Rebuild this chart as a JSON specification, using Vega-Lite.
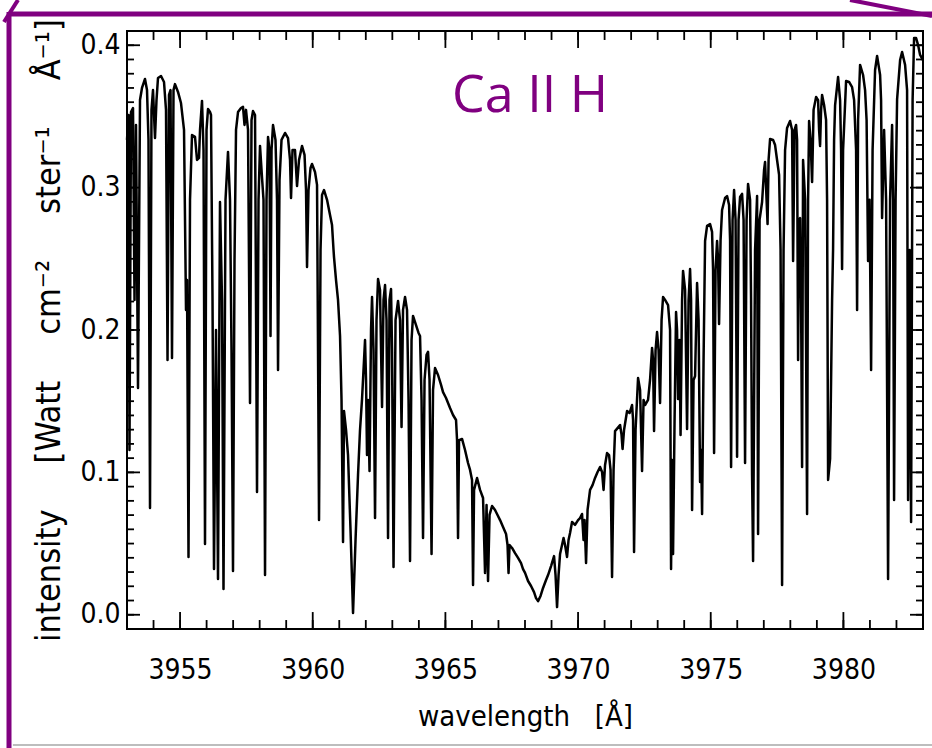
{
"$schema": "https://vega.github.io/schema/vega-lite/v6.json",
"width": 796, "height": 598,
"autosize": {"type": "none"},
"padding": {"left": 127, "top": 31, "right": 9, "bottom": 119},
"background": "white",
"config": {
  "view": {"stroke": "black", "strokeWidth": 2},
  "axis": {"grid": false, "domain": false, "ticks": false, "labelColor": "black", "titleColor": "black", "labelFont": "Liberation Sans Narrow, DejaVu Sans Condensed, sans-serif", "titleFont": "Liberation Sans Narrow, DejaVu Sans Condensed, sans-serif", "labelFontWeight": "normal", "titleFontWeight": "normal"}
},
"datasets": {
"xminor": [{"value":3953},{"value":3954},{"value":3955},{"value":3956},{"value":3957},{"value":3958},{"value":3959},{"value":3960},{"value":3961},{"value":3962},{"value":3963},{"value":3964},{"value":3965},{"value":3966},{"value":3967},{"value":3968},{"value":3969},{"value":3970},{"value":3971},{"value":3972},{"value":3973},{"value":3974},{"value":3975},{"value":3976},{"value":3977},{"value":3978},{"value":3979},{"value":3980},{"value":3981},{"value":3982},{"value":3983}],
"xmajor": [{"value":3955},{"value":3960},{"value":3965},{"value":3970},{"value":3975},{"value":3980}],
"yminor": [{"value":0},{"value":0.01},{"value":0.02},{"value":0.03},{"value":0.04},{"value":0.05},{"value":0.06},{"value":0.07},{"value":0.08},{"value":0.09},{"value":0.1},{"value":0.11},{"value":0.12},{"value":0.13},{"value":0.14},{"value":0.15},{"value":0.16},{"value":0.17},{"value":0.18},{"value":0.19},{"value":0.2},{"value":0.21},{"value":0.22},{"value":0.23},{"value":0.24},{"value":0.25},{"value":0.26},{"value":0.27},{"value":0.28},{"value":0.29},{"value":0.3},{"value":0.31},{"value":0.32},{"value":0.33},{"value":0.34},{"value":0.35},{"value":0.36},{"value":0.37},{"value":0.38},{"value":0.39},{"value":0.4}],
"ymajor": [{"value":0},{"value":0.1},{"value":0.2},{"value":0.3},{"value":0.4}],
"spectrum": [
{"wavelength":3953.000,"intensity":0.3335},{"wavelength":3953.057,"intensity":0.3510},{"wavelength":3953.094,"intensity":0.1157},{"wavelength":3953.151,"intensity":0.3531},{"wavelength":3953.226,"intensity":0.3559},{"wavelength":3953.283,"intensity":0.2211},{"wavelength":3953.339,"intensity":0.3440},{"wavelength":3953.415,"intensity":0.1593},{"wavelength":3953.490,"intensity":0.3615},{"wavelength":3953.565,"intensity":0.3700},{"wavelength":3953.678,"intensity":0.3763},{"wavelength":3953.754,"intensity":0.3685},{"wavelength":3953.810,"intensity":0.3335},{"wavelength":3953.867,"intensity":0.0750},{"wavelength":3953.923,"intensity":0.3546},{"wavelength":3953.980,"intensity":0.3685},{"wavelength":3954.055,"intensity":0.3348},{"wavelength":3954.112,"intensity":0.3615},{"wavelength":3954.168,"intensity":0.3770},{"wavelength":3954.282,"intensity":0.3784},{"wavelength":3954.395,"intensity":0.3742},{"wavelength":3954.470,"intensity":0.3546},{"wavelength":3954.527,"intensity":0.1789},{"wavelength":3954.583,"intensity":0.3651},{"wavelength":3954.640,"intensity":0.3685},{"wavelength":3954.696,"intensity":0.1804},{"wavelength":3954.753,"intensity":0.3685},{"wavelength":3954.809,"intensity":0.3727},{"wavelength":3954.922,"intensity":0.3672},{"wavelength":3955.035,"intensity":0.3594},{"wavelength":3955.149,"intensity":0.3405},{"wavelength":3955.224,"intensity":0.2141},{"wavelength":3955.262,"intensity":0.2351},{"wavelength":3955.318,"intensity":0.0406},{"wavelength":3955.375,"intensity":0.2914},{"wavelength":3955.450,"intensity":0.3369},{"wavelength":3955.563,"intensity":0.3356},{"wavelength":3955.639,"intensity":0.3194},{"wavelength":3955.714,"intensity":0.3209},{"wavelength":3955.752,"intensity":0.3405},{"wavelength":3955.827,"intensity":0.3609},{"wavelength":3955.884,"intensity":0.3264},{"wavelength":3955.940,"intensity":0.0497},{"wavelength":3955.997,"intensity":0.3405},{"wavelength":3956.053,"intensity":0.3552},{"wavelength":3956.129,"intensity":0.3531},{"wavelength":3956.166,"intensity":0.3510},{"wavelength":3956.223,"intensity":0.2211},{"wavelength":3956.279,"intensity":0.0321},{"wavelength":3956.355,"intensity":0.2000},{"wavelength":3956.430,"intensity":0.0251},{"wavelength":3956.505,"intensity":0.2899},{"wavelength":3956.581,"intensity":0.2211},{"wavelength":3956.637,"intensity":0.0181},{"wavelength":3956.713,"intensity":0.2914},{"wavelength":3956.807,"intensity":0.3251},{"wavelength":3956.882,"intensity":0.2914},{"wavelength":3956.939,"intensity":0.1859},{"wavelength":3956.995,"intensity":0.0307},{"wavelength":3957.052,"intensity":0.2491},{"wavelength":3957.109,"intensity":0.3405},{"wavelength":3957.184,"intensity":0.3531},{"wavelength":3957.297,"intensity":0.3559},{"wavelength":3957.372,"intensity":0.3567},{"wavelength":3957.429,"intensity":0.3440},{"wavelength":3957.485,"intensity":0.3546},{"wavelength":3957.561,"intensity":0.3405},{"wavelength":3957.636,"intensity":0.1488},{"wavelength":3957.693,"intensity":0.3475},{"wavelength":3957.749,"intensity":0.3538},{"wavelength":3957.825,"intensity":0.3510},{"wavelength":3957.900,"intensity":0.0862},{"wavelength":3957.957,"intensity":0.2914},{"wavelength":3958.013,"intensity":0.3293},{"wavelength":3958.089,"intensity":0.3068},{"wavelength":3958.145,"intensity":0.2914},{"wavelength":3958.202,"intensity":0.0279},{"wavelength":3958.258,"intensity":0.2914},{"wavelength":3958.315,"intensity":0.3356},{"wavelength":3958.371,"intensity":0.3264},{"wavelength":3958.409,"intensity":0.1958},{"wavelength":3958.447,"intensity":0.3264},{"wavelength":3958.503,"intensity":0.3440},{"wavelength":3958.597,"intensity":0.3335},{"wavelength":3958.654,"intensity":0.2914},{"wavelength":3958.692,"intensity":0.1719},{"wavelength":3958.748,"intensity":0.3053},{"wavelength":3958.824,"intensity":0.3335},{"wavelength":3958.956,"intensity":0.3384},{"wavelength":3959.069,"intensity":0.3348},{"wavelength":3959.144,"intensity":0.3194},{"wavelength":3959.182,"intensity":0.2927},{"wavelength":3959.238,"intensity":0.3264},{"wavelength":3959.332,"intensity":0.3264},{"wavelength":3959.408,"intensity":0.3011},{"wavelength":3959.483,"intensity":0.3194},{"wavelength":3959.596,"intensity":0.3293},{"wavelength":3959.691,"intensity":0.3230},{"wavelength":3959.747,"intensity":0.2983},{"wavelength":3959.785,"intensity":0.2442},{"wavelength":3959.841,"intensity":0.2983},{"wavelength":3959.917,"intensity":0.3138},{"wavelength":3959.973,"intensity":0.3166},{"wavelength":3960.086,"intensity":0.3110},{"wavelength":3960.162,"intensity":0.3019},{"wavelength":3960.237,"intensity":0.0665},{"wavelength":3960.294,"intensity":0.2562},{"wavelength":3960.350,"intensity":0.2948},{"wavelength":3960.426,"intensity":0.2983},{"wavelength":3960.539,"intensity":0.2914},{"wavelength":3960.652,"intensity":0.2808},{"wavelength":3960.727,"intensity":0.2737},{"wavelength":3960.784,"intensity":0.2562},{"wavelength":3960.802,"intensity":0.2512},{"wavelength":3960.878,"intensity":0.2351},{"wavelength":3960.953,"intensity":0.2211},{"wavelength":3961.029,"intensity":0.1958},{"wavelength":3961.085,"intensity":0.1509},{"wavelength":3961.142,"intensity":0.0511},{"wavelength":3961.179,"intensity":0.1431},{"wavelength":3961.255,"intensity":0.1298},{"wavelength":3961.330,"intensity":0.1122},{"wavelength":3961.424,"intensity":0.0595},{"wavelength":3961.519,"intensity":0.0012},{"wavelength":3961.613,"intensity":0.0525},{"wavelength":3961.707,"intensity":0.0982},{"wavelength":3961.782,"intensity":0.1298},{"wavelength":3961.858,"intensity":0.1515},{"wavelength":3961.933,"intensity":0.1789},{"wavelength":3961.971,"intensity":0.1930},{"wavelength":3962.009,"intensity":0.1649},{"wavelength":3962.046,"intensity":0.1122},{"wavelength":3962.084,"intensity":0.1509},{"wavelength":3962.141,"intensity":0.1010},{"wavelength":3962.197,"intensity":0.2000},{"wavelength":3962.235,"intensity":0.2232},{"wavelength":3962.291,"intensity":0.1859},{"wavelength":3962.348,"intensity":0.0679},{"wavelength":3962.404,"intensity":0.2070},{"wavelength":3962.461,"intensity":0.2358},{"wavelength":3962.536,"intensity":0.2281},{"wavelength":3962.612,"intensity":0.1459},{"wavelength":3962.668,"intensity":0.2211},{"wavelength":3962.725,"intensity":0.2316},{"wavelength":3962.781,"intensity":0.2070},{"wavelength":3962.838,"intensity":0.0539},{"wavelength":3962.894,"intensity":0.2211},{"wavelength":3962.951,"intensity":0.2288},{"wavelength":3962.989,"intensity":0.1859},{"wavelength":3963.045,"intensity":0.0336},{"wavelength":3963.121,"intensity":0.2070},{"wavelength":3963.215,"intensity":0.2204},{"wavelength":3963.290,"intensity":0.2070},{"wavelength":3963.347,"intensity":0.1319},{"wavelength":3963.403,"intensity":0.2141},{"wavelength":3963.479,"intensity":0.2232},{"wavelength":3963.554,"intensity":0.2141},{"wavelength":3963.611,"intensity":0.1509},{"wavelength":3963.667,"intensity":0.0378},{"wavelength":3963.724,"intensity":0.1930},{"wavelength":3963.780,"intensity":0.2099},{"wavelength":3963.893,"intensity":0.2035},{"wavelength":3963.988,"intensity":0.1979},{"wavelength":3964.044,"intensity":0.1958},{"wavelength":3964.101,"intensity":0.1509},{"wavelength":3964.157,"intensity":0.0539},{"wavelength":3964.214,"intensity":0.1649},{"wavelength":3964.289,"intensity":0.1825},{"wavelength":3964.346,"intensity":0.1846},{"wavelength":3964.402,"intensity":0.1649},{"wavelength":3964.478,"intensity":0.0427},{"wavelength":3964.534,"intensity":0.1579},{"wavelength":3964.609,"intensity":0.1733},{"wavelength":3964.723,"intensity":0.1684},{"wavelength":3964.836,"intensity":0.1614},{"wavelength":3964.911,"intensity":0.1564},{"wavelength":3965.024,"intensity":0.1522},{"wavelength":3965.175,"intensity":0.1452},{"wavelength":3965.288,"intensity":0.1403},{"wavelength":3965.401,"intensity":0.1368},{"wavelength":3965.439,"intensity":0.1227},{"wavelength":3965.476,"intensity":0.0539},{"wavelength":3965.514,"intensity":0.1227},{"wavelength":3965.627,"intensity":0.1235},{"wavelength":3965.740,"intensity":0.1157},{"wavelength":3965.853,"intensity":0.1066},{"wavelength":3965.929,"intensity":0.1017},{"wavelength":3966.004,"intensity":0.0947},{"wavelength":3966.042,"intensity":0.0209},{"wavelength":3966.080,"intensity":0.0877},{"wavelength":3966.193,"intensity":0.0961},{"wavelength":3966.306,"intensity":0.0877},{"wavelength":3966.419,"intensity":0.0820},{"wavelength":3966.494,"intensity":0.0294},{"wavelength":3966.551,"intensity":0.0771},{"wavelength":3966.607,"intensity":0.0237},{"wavelength":3966.664,"intensity":0.0701},{"wavelength":3966.758,"intensity":0.0764},{"wavelength":3966.871,"intensity":0.0736},{"wavelength":3966.946,"intensity":0.0708},{"wavelength":3967.060,"intensity":0.0665},{"wavelength":3967.173,"intensity":0.0616},{"wavelength":3967.286,"intensity":0.0567},{"wavelength":3967.342,"intensity":0.0490},{"wavelength":3967.380,"intensity":0.0294},{"wavelength":3967.418,"intensity":0.0490},{"wavelength":3967.512,"intensity":0.0469},{"wavelength":3967.625,"intensity":0.0433},{"wavelength":3967.738,"intensity":0.0399},{"wavelength":3967.851,"intensity":0.0363},{"wavelength":3967.926,"intensity":0.0321},{"wavelength":3968.002,"intensity":0.0294},{"wavelength":3968.115,"intensity":0.0237},{"wavelength":3968.228,"intensity":0.0202},{"wavelength":3968.341,"intensity":0.0159},{"wavelength":3968.416,"intensity":0.0117},{"wavelength":3968.492,"intensity":0.0096},{"wavelength":3968.586,"intensity":0.0132},{"wavelength":3968.680,"intensity":0.0188},{"wavelength":3968.793,"intensity":0.0244},{"wavelength":3968.869,"intensity":0.0279},{"wavelength":3968.982,"intensity":0.0342},{"wavelength":3969.095,"intensity":0.0412},{"wavelength":3969.151,"intensity":0.0279},{"wavelength":3969.208,"intensity":0.0054},{"wavelength":3969.265,"intensity":0.0279},{"wavelength":3969.321,"intensity":0.0427},{"wavelength":3969.396,"intensity":0.0490},{"wavelength":3969.453,"intensity":0.0539},{"wavelength":3969.510,"intensity":0.0490},{"wavelength":3969.585,"intensity":0.0406},{"wavelength":3969.641,"intensity":0.0525},{"wavelength":3969.698,"intensity":0.0574},{"wavelength":3969.773,"intensity":0.0652},{"wavelength":3969.886,"intensity":0.0631},{"wavelength":3970.000,"intensity":0.0665},{"wavelength":3970.075,"intensity":0.0679},{"wavelength":3970.150,"intensity":0.0708},{"wavelength":3970.207,"intensity":0.0525},{"wavelength":3970.245,"intensity":0.0665},{"wavelength":3970.301,"intensity":0.0363},{"wavelength":3970.358,"intensity":0.0736},{"wavelength":3970.452,"intensity":0.0877},{"wavelength":3970.546,"intensity":0.0911},{"wavelength":3970.640,"intensity":0.0961},{"wavelength":3970.735,"intensity":0.1003},{"wavelength":3970.829,"intensity":0.1038},{"wavelength":3970.904,"intensity":0.1003},{"wavelength":3970.961,"intensity":0.0877},{"wavelength":3971.017,"intensity":0.1052},{"wavelength":3971.093,"intensity":0.1136},{"wavelength":3971.168,"intensity":0.1122},{"wavelength":3971.225,"intensity":0.1017},{"wavelength":3971.281,"intensity":0.0265},{"wavelength":3971.338,"intensity":0.1017},{"wavelength":3971.394,"intensity":0.1290},{"wavelength":3971.488,"intensity":0.1311},{"wavelength":3971.583,"intensity":0.1333},{"wavelength":3971.639,"intensity":0.1263},{"wavelength":3971.677,"intensity":0.1164},{"wavelength":3971.733,"intensity":0.1298},{"wavelength":3971.847,"intensity":0.1431},{"wavelength":3971.941,"intensity":0.1417},{"wavelength":3972.035,"intensity":0.1473},{"wavelength":3972.073,"intensity":0.1368},{"wavelength":3972.110,"intensity":0.0441},{"wavelength":3972.167,"intensity":0.1298},{"wavelength":3972.261,"intensity":0.1663},{"wavelength":3972.337,"intensity":0.1579},{"wavelength":3972.412,"intensity":0.1010},{"wavelength":3972.468,"intensity":0.1509},{"wavelength":3972.525,"intensity":0.1473},{"wavelength":3972.638,"intensity":0.1509},{"wavelength":3972.713,"intensity":0.1649},{"wavelength":3972.789,"intensity":0.1874},{"wavelength":3972.827,"intensity":0.1789},{"wavelength":3972.864,"intensity":0.1290},{"wavelength":3972.921,"intensity":0.1859},{"wavelength":3972.977,"intensity":0.1986},{"wavelength":3973.034,"intensity":0.1859},{"wavelength":3973.090,"intensity":0.1488},{"wavelength":3973.147,"intensity":0.2070},{"wavelength":3973.203,"intensity":0.2232},{"wavelength":3973.279,"intensity":0.2211},{"wavelength":3973.392,"intensity":0.2175},{"wavelength":3973.467,"intensity":0.2000},{"wavelength":3973.505,"intensity":0.0321},{"wavelength":3973.543,"intensity":0.1087},{"wavelength":3973.580,"intensity":0.0427},{"wavelength":3973.637,"intensity":0.1368},{"wavelength":3973.693,"intensity":0.2126},{"wavelength":3973.731,"intensity":0.2000},{"wavelength":3973.769,"intensity":0.1515},{"wavelength":3973.825,"intensity":0.1930},{"wavelength":3973.863,"intensity":0.1263},{"wavelength":3973.920,"intensity":0.2211},{"wavelength":3973.957,"intensity":0.2415},{"wavelength":3974.033,"intensity":0.2281},{"wavelength":3974.108,"intensity":0.1305},{"wavelength":3974.165,"intensity":0.2211},{"wavelength":3974.221,"intensity":0.2428},{"wavelength":3974.259,"intensity":0.2211},{"wavelength":3974.297,"intensity":0.0736},{"wavelength":3974.353,"intensity":0.1649},{"wavelength":3974.410,"intensity":0.1677},{"wavelength":3974.485,"intensity":0.2330},{"wavelength":3974.542,"intensity":0.2070},{"wavelength":3974.598,"intensity":0.0932},{"wavelength":3974.636,"intensity":0.1157},{"wavelength":3974.674,"intensity":0.0708},{"wavelength":3974.730,"intensity":0.1789},{"wavelength":3974.787,"intensity":0.2625},{"wavelength":3974.862,"intensity":0.2731},{"wavelength":3974.975,"intensity":0.2744},{"wavelength":3975.050,"intensity":0.2689},{"wavelength":3975.088,"intensity":0.2421},{"wavelength":3975.126,"intensity":0.1136},{"wavelength":3975.182,"intensity":0.2421},{"wavelength":3975.239,"intensity":0.2625},{"wavelength":3975.277,"intensity":0.2491},{"wavelength":3975.314,"intensity":0.2042},{"wavelength":3975.371,"intensity":0.2632},{"wavelength":3975.427,"intensity":0.2843},{"wavelength":3975.540,"intensity":0.2927},{"wavelength":3975.616,"intensity":0.2941},{"wavelength":3975.691,"intensity":0.2878},{"wavelength":3975.729,"intensity":0.2632},{"wavelength":3975.767,"intensity":0.1038},{"wavelength":3975.823,"intensity":0.2773},{"wavelength":3975.880,"intensity":0.2983},{"wavelength":3975.936,"intensity":0.2773},{"wavelength":3975.993,"intensity":0.1109},{"wavelength":3976.049,"intensity":0.2773},{"wavelength":3976.106,"intensity":0.2935},{"wavelength":3976.181,"intensity":0.2956},{"wavelength":3976.238,"intensity":0.2773},{"wavelength":3976.294,"intensity":0.1066},{"wavelength":3976.351,"intensity":0.2773},{"wavelength":3976.407,"intensity":0.3026},{"wavelength":3976.483,"intensity":0.2914},{"wavelength":3976.520,"intensity":0.2211},{"wavelength":3976.558,"intensity":0.0982},{"wavelength":3976.596,"intensity":0.0378},{"wavelength":3976.671,"intensity":0.2562},{"wavelength":3976.747,"intensity":0.2941},{"wavelength":3976.784,"intensity":0.0567},{"wavelength":3976.841,"intensity":0.2773},{"wavelength":3976.935,"intensity":0.2899},{"wavelength":3977.010,"intensity":0.3124},{"wavelength":3977.048,"intensity":0.3180},{"wavelength":3977.105,"intensity":0.2914},{"wavelength":3977.142,"intensity":0.2744},{"wavelength":3977.180,"intensity":0.3194},{"wavelength":3977.237,"intensity":0.3342},{"wavelength":3977.350,"intensity":0.3335},{"wavelength":3977.425,"intensity":0.3299},{"wavelength":3977.500,"intensity":0.3194},{"wavelength":3977.576,"intensity":0.3089},{"wavelength":3977.632,"intensity":0.2562},{"wavelength":3977.689,"intensity":0.0209},{"wavelength":3977.745,"intensity":0.2562},{"wavelength":3977.802,"intensity":0.3264},{"wavelength":3977.877,"intensity":0.3419},{"wavelength":3977.990,"intensity":0.3468},{"wavelength":3978.066,"intensity":0.3405},{"wavelength":3978.104,"intensity":0.2485},{"wavelength":3978.160,"intensity":0.3405},{"wavelength":3978.217,"intensity":0.3440},{"wavelength":3978.254,"intensity":0.3335},{"wavelength":3978.292,"intensity":0.1789},{"wavelength":3978.330,"intensity":0.2773},{"wavelength":3978.367,"intensity":0.2786},{"wavelength":3978.405,"intensity":0.2211},{"wavelength":3978.443,"intensity":0.1038},{"wavelength":3978.480,"intensity":0.3194},{"wavelength":3978.556,"intensity":0.2914},{"wavelength":3978.594,"intensity":0.1859},{"wavelength":3978.631,"intensity":0.0708},{"wavelength":3978.669,"intensity":0.2914},{"wavelength":3978.707,"intensity":0.3468},{"wavelength":3978.763,"intensity":0.3335},{"wavelength":3978.820,"intensity":0.3040},{"wavelength":3978.876,"intensity":0.3546},{"wavelength":3978.971,"intensity":0.3637},{"wavelength":3979.046,"intensity":0.3615},{"wavelength":3979.084,"intensity":0.3405},{"wavelength":3979.121,"intensity":0.3293},{"wavelength":3979.159,"intensity":0.3546},{"wavelength":3979.197,"intensity":0.3651},{"wavelength":3979.272,"intensity":0.3580},{"wavelength":3979.347,"intensity":0.3475},{"wavelength":3979.385,"intensity":0.2914},{"wavelength":3979.423,"intensity":0.0947},{"wavelength":3979.498,"intensity":0.1094},{"wavelength":3979.574,"intensity":0.2211},{"wavelength":3979.611,"intensity":0.2569},{"wavelength":3979.649,"intensity":0.3335},{"wavelength":3979.687,"intensity":0.3580},{"wavelength":3979.800,"intensity":0.3777},{"wavelength":3979.875,"intensity":0.3615},{"wavelength":3979.913,"intensity":0.3264},{"wavelength":3979.950,"intensity":0.2428},{"wavelength":3979.988,"intensity":0.3264},{"wavelength":3980.101,"intensity":0.3749},{"wavelength":3980.214,"intensity":0.3742},{"wavelength":3980.327,"intensity":0.3706},{"wavelength":3980.403,"intensity":0.3615},{"wavelength":3980.478,"intensity":0.3264},{"wavelength":3980.516,"intensity":0.2141},{"wavelength":3980.554,"intensity":0.3475},{"wavelength":3980.629,"intensity":0.3862},{"wavelength":3980.742,"intensity":0.3791},{"wavelength":3980.817,"intensity":0.3685},{"wavelength":3980.874,"intensity":0.3475},{"wavelength":3980.930,"intensity":0.2485},{"wavelength":3980.987,"intensity":0.2914},{"wavelength":3981.044,"intensity":0.1719},{"wavelength":3981.100,"intensity":0.3264},{"wavelength":3981.194,"intensity":0.3826},{"wavelength":3981.270,"intensity":0.3925},{"wavelength":3981.383,"intensity":0.3791},{"wavelength":3981.420,"intensity":0.3615},{"wavelength":3981.458,"intensity":0.2786},{"wavelength":3981.534,"intensity":0.3405},{"wavelength":3981.609,"intensity":0.2914},{"wavelength":3981.684,"intensity":0.0251},{"wavelength":3981.760,"intensity":0.2914},{"wavelength":3981.835,"intensity":0.3440},{"wavelength":3981.873,"intensity":0.2914},{"wavelength":3981.910,"intensity":0.0806},{"wavelength":3981.967,"intensity":0.2914},{"wavelength":3982.024,"intensity":0.3622},{"wavelength":3982.137,"intensity":0.3896},{"wavelength":3982.212,"intensity":0.3953},{"wavelength":3982.325,"intensity":0.3862},{"wavelength":3982.400,"intensity":0.3685},{"wavelength":3982.438,"intensity":0.0806},{"wavelength":3982.495,"intensity":0.2562},{"wavelength":3982.551,"intensity":0.0652},{"wavelength":3982.608,"intensity":0.3615},{"wavelength":3982.664,"intensity":0.4051},{"wavelength":3982.740,"intensity":0.4051},{"wavelength":3982.815,"intensity":0.4001},{"wavelength":3982.891,"intensity":0.3932},{"wavelength":3983.000,"intensity":0.3896}
]},
"layer": [
  {
    "data": {"name": "spectrum"},
    "mark": {"type": "line", "color": "black", "strokeWidth": 2.5, "strokeJoin": "round"},
    "encoding": {
      "x": {"field": "wavelength", "type": "quantitative",
        "scale": {"domain": [3953, 3983], "nice": false, "zero": false},
        "axis": {"orient": "bottom", "values": [3955,3960,3965,3970,3975,3980], "format": "d",
          "labelFontSize": 28, "labelPadding": 27, "labelFlush": false, "labelOverlap": false,
          "title": "wavelength\u00a0\u00a0\u00a0[Å]", "titleFontSize": 29, "titlePadding": 18}},
      "y": {"field": "intensity", "type": "quantitative",
        "scale": {"domain": [-0.01, 0.41], "nice": false, "zero": false},
        "axis": {"orient": "left", "values": [0, 0.1, 0.2, 0.3, 0.4], "format": ".1f",
          "labelFontSize": 28, "labelPadding": 7, "labelFlush": false, "labelOverlap": false,
          "title": "intensity\u2003\u2002[Watt\u2003\u2002cm⁻²\u2003\u2002ster⁻¹\u2003\u2002Å⁻¹]", "titleFontSize": 34, "titlePadding": 13}}
    }
  },
  {
    "data": {"name": "xminor"},
    "mark": {"type": "rule", "color": "black", "strokeWidth": 1.8},
    "encoding": {
      "x": {"field": "value", "type": "quantitative", "scale": {"domain": [3953, 3983], "nice": false, "zero": false}, "axis": null},
      "y": {"datum": -0.01, "type": "quantitative", "scale": {"domain": [-0.01, 0.41], "nice": false, "zero": false}, "axis": null},
      "y2": {"datum": -0.0037}
    }
  },
  {
    "data": {"name": "xminor"},
    "mark": {"type": "rule", "color": "black", "strokeWidth": 1.8},
    "encoding": {
      "x": {"field": "value", "type": "quantitative", "scale": {"domain": [3953, 3983], "nice": false, "zero": false}, "axis": null},
      "y": {"datum": 0.41, "type": "quantitative", "scale": {"domain": [-0.01, 0.41], "nice": false, "zero": false}, "axis": null},
      "y2": {"datum": 0.4037}
    }
  },
  {
    "data": {"name": "xmajor"},
    "mark": {"type": "rule", "color": "black", "strokeWidth": 1.8},
    "encoding": {
      "x": {"field": "value", "type": "quantitative", "scale": {"domain": [3953, 3983], "nice": false, "zero": false}, "axis": null},
      "y": {"datum": -0.01, "type": "quantitative", "scale": {"domain": [-0.01, 0.41], "nice": false, "zero": false}, "axis": null},
      "y2": {"datum": 0.0019}
    }
  },
  {
    "data": {"name": "xmajor"},
    "mark": {"type": "rule", "color": "black", "strokeWidth": 1.8},
    "encoding": {
      "x": {"field": "value", "type": "quantitative", "scale": {"domain": [3953, 3983], "nice": false, "zero": false}, "axis": null},
      "y": {"datum": 0.41, "type": "quantitative", "scale": {"domain": [-0.01, 0.41], "nice": false, "zero": false}, "axis": null},
      "y2": {"datum": 0.3981}
    }
  },
  {
    "data": {"name": "yminor"},
    "mark": {"type": "rule", "color": "black", "strokeWidth": 1.8},
    "encoding": {
      "y": {"field": "value", "type": "quantitative", "scale": {"domain": [-0.01, 0.41], "nice": false, "zero": false}, "axis": null},
      "x": {"datum": 3953, "type": "quantitative", "scale": {"domain": [3953, 3983], "nice": false, "zero": false}, "axis": null},
      "x2": {"datum": 3953.264}
    }
  },
  {
    "data": {"name": "yminor"},
    "mark": {"type": "rule", "color": "black", "strokeWidth": 1.8},
    "encoding": {
      "y": {"field": "value", "type": "quantitative", "scale": {"domain": [-0.01, 0.41], "nice": false, "zero": false}, "axis": null},
      "x": {"datum": 3983, "type": "quantitative", "scale": {"domain": [3953, 3983], "nice": false, "zero": false}, "axis": null},
      "x2": {"datum": 3982.736}
    }
  },
  {
    "data": {"name": "ymajor"},
    "mark": {"type": "rule", "color": "black", "strokeWidth": 1.8},
    "encoding": {
      "y": {"field": "value", "type": "quantitative", "scale": {"domain": [-0.01, 0.41], "nice": false, "zero": false}, "axis": null},
      "x": {"datum": 3953, "type": "quantitative", "scale": {"domain": [3953, 3983], "nice": false, "zero": false}, "axis": null},
      "x2": {"datum": 3953.49}
    }
  },
  {
    "data": {"name": "ymajor"},
    "mark": {"type": "rule", "color": "black", "strokeWidth": 1.8},
    "encoding": {
      "y": {"field": "value", "type": "quantitative", "scale": {"domain": [-0.01, 0.41], "nice": false, "zero": false}, "axis": null},
      "x": {"datum": 3983, "type": "quantitative", "scale": {"domain": [3953, 3983], "nice": false, "zero": false}, "axis": null},
      "x2": {"datum": 3982.51}
    }
  },
  {
    "data": {"values": [{}]},
    "mark": {"type": "text", "text": "Ca II H", "font": "Open Sans", "fontSize": 52, "color": "#800080", "align": "center", "baseline": "alphabetic"},
    "encoding": {
      "x": {"datum": 3968.19, "type": "quantitative", "scale": {"domain": [3953, 3983], "nice": false, "zero": false}, "axis": null},
      "y": {"datum": 0.3531, "type": "quantitative", "scale": {"domain": [-0.01, 0.41], "nice": false, "zero": false}, "axis": null}
    }
  },
  {
    "data": {"values": [{}]},
    "mark": {"type": "rule", "color": "#800080", "strokeWidth": 5},
    "encoding": {
      "x": {"datum": 3948.553, "type": "quantitative", "scale": {"domain": [3953, 3983], "nice": false, "zero": false}, "axis": null},
      "y": {"datum": 0.4234, "type": "quantitative", "scale": {"domain": [-0.01, 0.41], "nice": false, "zero": false}, "axis": null},
      "y2": {"datum": -0.0936}
    }
  },
  {
    "data": {"values": [{}]},
    "mark": {"type": "rule", "color": "#800080", "strokeWidth": 5},
    "encoding": {
      "x": {"datum": 3948.553, "type": "quantitative", "scale": {"domain": [3953, 3983], "nice": false, "zero": false}, "axis": null},
      "x2": {"datum": 3983.34},
      "y": {"datum": 0.4219, "type": "quantitative", "scale": {"domain": [-0.01, 0.41], "nice": false, "zero": false}, "axis": null}
    }
  },
  {
    "data": {"values": [{}]},
    "mark": {"type": "rule", "color": "#800080", "strokeWidth": 4},
    "encoding": {
      "x": {"datum": 3980.249, "type": "quantitative", "scale": {"domain": [3953, 3983], "nice": false, "zero": false}, "axis": null},
      "x2": {"datum": 3983.34},
      "y": {"datum": 0.4318, "type": "quantitative", "scale": {"domain": [-0.01, 0.41], "nice": false, "zero": false}, "axis": null},
      "y2": {"datum": 0.4205}
    }
  },
  {
    "data": {"values": [{}]},
    "mark": {"type": "rule", "color": "#800080", "strokeWidth": 4},
    "encoding": {
      "x": {"datum": 3948.364, "type": "quantitative", "scale": {"domain": [3953, 3983], "nice": false, "zero": false}, "axis": null},
      "x2": {"datum": 3948.892},
      "y": {"datum": 0.4163, "type": "quantitative", "scale": {"domain": [-0.01, 0.41], "nice": false, "zero": false}, "axis": null},
      "y2": {"datum": 0.4318}
    }
  },
  {
    "data": {"values": [{}]},
    "mark": {"type": "rule", "color": "#bdbdbd", "strokeWidth": 2},
    "encoding": {
      "x": {"datum": 3948.7, "type": "quantitative", "scale": {"domain": [3953, 3983], "nice": false, "zero": false}, "axis": null},
      "x2": {"datum": 3983.34},
      "y": {"datum": -0.0915, "type": "quantitative", "scale": {"domain": [-0.01, 0.41], "nice": false, "zero": false}, "axis": null}
    }
  }
],
"resolve": {"axis": {"x": "independent", "y": "independent"}}
}
